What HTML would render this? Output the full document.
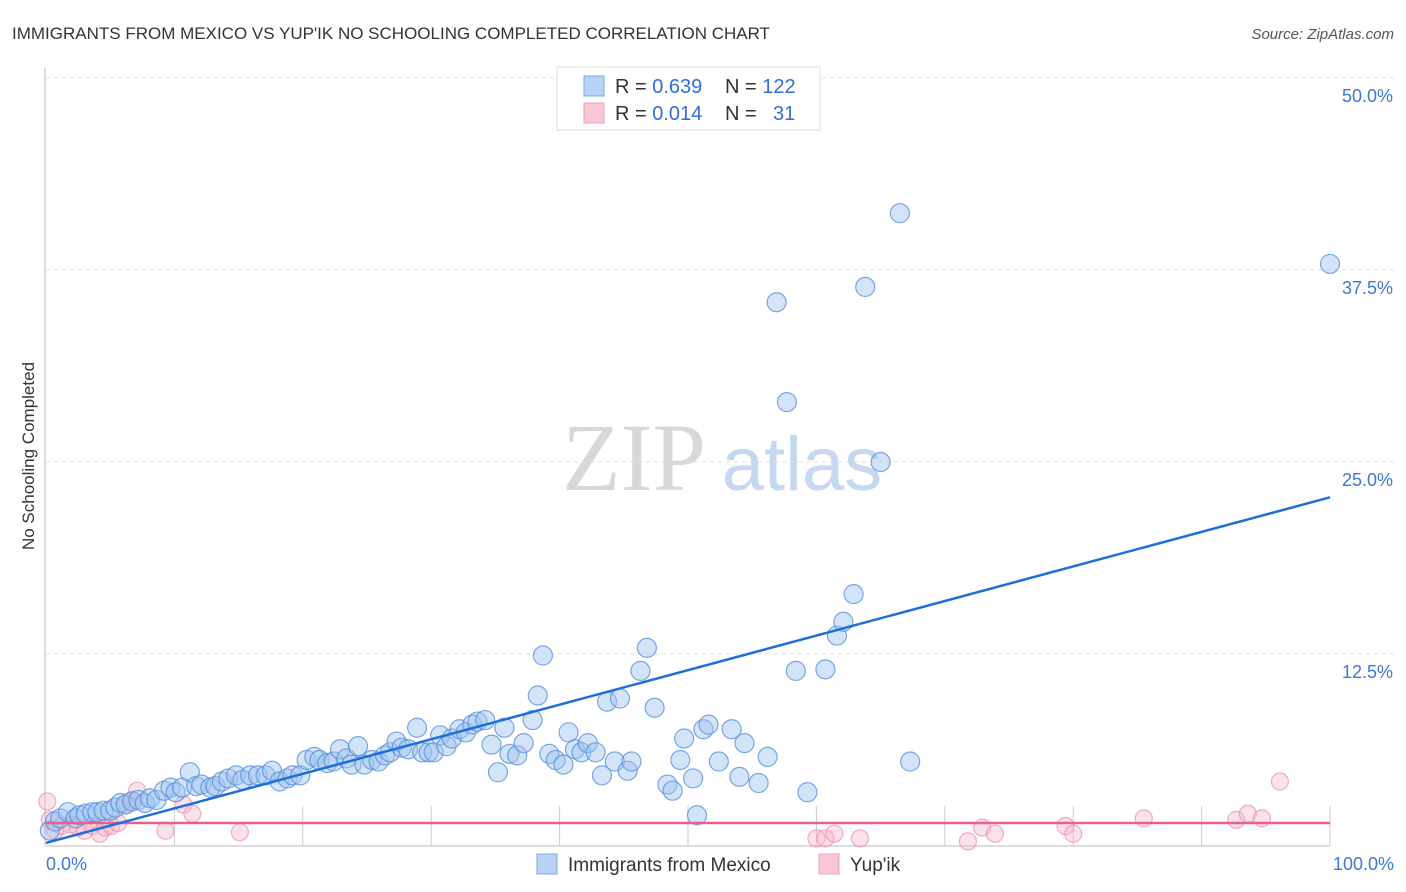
<!DOCTYPE html>
<html><head><meta charset="utf-8">
<style>
body{margin:0;background:#fff;font-family:"Liberation Sans",sans-serif;}
svg{display:block}
</style></head>
<body>
<svg id="chart" width="1406" height="892" xmlns="http://www.w3.org/2000/svg">
<text x="12" y="39" font-size="17" fill="#333">IMMIGRANTS FROM MEXICO VS YUP'IK NO SCHOOLING COMPLETED CORRELATION CHART</text>
<text x="1394" y="39" font-size="15" fill="#555" font-style="italic" text-anchor="end">Source: ZipAtlas.com</text>
<text transform="translate(34,456) rotate(-90)" font-size="17" fill="#333" text-anchor="middle">No Schooling Completed</text>
<g>
<text x="634" y="490" font-size="96" font-family="Liberation Serif,serif" fill="#d8d8d8" text-anchor="middle">ZIP</text>
<text x="802" y="490" font-size="76" fill="#c5d8f0" text-anchor="middle">atlas</text>
</g>
<g id="grid"></g>
<g id="marks"></g>
<g>
<rect x="557" y="67" width="263" height="63" fill="#fff" stroke="#ddd"/>
<rect x="584" y="76" width="20" height="20" fill="#b8d2f4" stroke="#7aa8e6"/>
<rect x="584" y="103" width="20" height="20" fill="#f9c6d6" stroke="#f0a0b8"/>
<text x="615" y="93" font-size="20" fill="#333">R = <tspan fill="#2f6fd6">0.639</tspan></text>
<text x="725" y="93" font-size="20" fill="#333">N = <tspan fill="#2f6fd6">122</tspan></text>
<text x="615" y="120" font-size="20" fill="#333">R = <tspan fill="#2f6fd6">0.014</tspan></text>
<text x="725" y="120" font-size="20" fill="#333">N = <tspan fill="#2f6fd6" x="773">31</tspan></text>
</g>
<g>
<rect x="537" y="854" width="20" height="20" fill="#b8d2f4" stroke="#7aa8e6"/>
<text x="568" y="871" font-size="19" fill="#333">Immigrants from Mexico</text>
<rect x="819" y="854" width="20" height="20" fill="#f9c6d6" stroke="#f0a0b8"/>
<text x="850" y="871" font-size="19" fill="#333">Yup'ik</text>
</g>
</svg>
<script>
const yTicks=[12.5,25,37.5,50];
const yTickLabels=["12.5%","25.0%","37.5%","50.0%"];
const xTickLabels=["0.0%","100.0%"];
const blueX=[0.3,0.7,1.1,1.7,2.3,2.6,3.1,3.6,4.0,4.5,5.0,5.4,5.8,6.2,6.7,7.2,7.7,8.1,8.6,9.2,9.7,10.1,10.6,11.2,11.7,12.1,12.8,13.2,13.7,14.2,14.8,15.3,15.9,16.5,17.1,17.6,18.2,18.8,19.2,19.8,20.3,20.9,21.3,21.9,22.4,22.9,23.4,23.8,24.3,24.8,25.4,25.9,26.4,26.8,27.3,27.7,28.2,28.9,29.3,29.8,30.2,30.7,31.2,31.6,32.2,32.7,33.2,33.6,34.2,34.7,35.2,35.7,36.1,36.7,37.2,37.9,38.3,38.7,39.2,39.7,40.3,40.7,41.2,41.7,42.2,42.8,43.3,43.7,44.3,44.7,45.3,45.6,46.3,46.8,47.4,48.4,48.8,49.4,49.7,50.4,50.7,51.2,51.6,52.4,53.4,54.0,54.4,55.5,56.2,56.9,57.7,58.4,59.3,60.7,61.6,62.1,62.9,63.8,65.0,66.5,67.3,100.0];
const blueY=[1.0,1.6,1.8,2.2,1.8,2.0,2.1,2.2,2.2,2.3,2.3,2.5,2.8,2.7,2.9,3.0,2.8,3.1,3.0,3.6,3.8,3.5,3.8,4.8,3.9,4.0,3.8,3.9,4.2,4.4,4.6,4.3,4.6,4.6,4.6,4.9,4.2,4.4,4.6,4.6,5.6,5.8,5.6,5.4,5.5,6.3,5.7,5.3,6.5,5.3,5.6,5.5,5.9,6.1,6.8,6.4,6.3,7.7,6.1,6.1,6.1,7.2,6.5,7.0,7.6,7.4,7.9,8.1,8.2,6.6,4.8,7.7,6.0,5.9,6.7,8.2,9.8,12.4,6.0,5.6,5.3,7.4,6.3,6.1,6.7,6.1,4.6,9.4,5.5,9.6,4.9,5.5,11.4,12.9,9.0,4.0,3.6,5.6,7.0,4.4,2.0,7.6,7.9,5.5,7.6,4.5,6.7,4.1,5.8,35.4,28.9,11.4,3.5,11.5,13.7,14.6,16.4,36.4,25.0,41.2,5.5,37.9];
const pinkX=[0.1,0.3,0.7,1.2,1.9,2.5,3.0,3.6,4.2,4.6,5.1,5.6,6.2,6.7,7.1,9.3,10.7,11.4,15.1,60.0,60.7,61.4,63.4,71.8,72.9,73.9,79.4,80.0,85.5,92.7,93.6,94.7,96.1];
const pinkY=[2.9,1.7,1.0,1.3,1.4,1.2,1.0,1.3,0.8,1.2,1.3,1.5,2.7,3.0,3.6,1.0,2.7,2.1,0.9,0.5,0.5,0.8,0.5,0.3,1.2,0.8,1.3,0.8,1.8,1.7,2.1,1.8,4.2];
const blueTrend=[0.2,22.7];
const pinkTrend=[1.5,1.5];

const L=46,R=1330,B=846,T=78;
const sx=v=>L+(R-L)*v/100;
const sy=v=>B-(B-T)*v/50;
const NS="http://www.w3.org/2000/svg";
function mk(tag,attrs,parent){const e=document.createElementNS(NS,tag);for(const k in attrs)e.setAttribute(k,attrs[k]);parent.appendChild(e);return e;}
const grid=document.getElementById('grid'),marks=document.getElementById('marks');
yTicks.forEach((t,i)=>{
  const g=mk('line',{x1:L,x2:1394,y1:sy(t),y2:sy(t),stroke:'#ddd','stroke-dasharray':'4,4'},grid);
  
  
  const tx=mk('text',{x:1393,y:sy(t)+24,'font-size':18,fill:'#3a78d8','text-anchor':'end'},grid);
  tx.textContent=yTickLabels[i];
  
  
});
const ax=mk('line',{x1:L-1,x2:L-1,y1:68,y2:B,stroke:'#bbb'},grid);


const bx=mk('line',{x1:L,x2:R,y1:B,y2:B,stroke:'#bbb'},grid);


for(let i=1;i<=10;i++){
  const tk=mk('line',{x1:sx(i*10),x2:sx(i*10),y1:806,y2:B,stroke:'#ccc'},grid);
  
  
}
[[0,'start',46],[100,'end',1394]].forEach((d,i)=>{
  const tx=mk('text',{x:d[2],y:870,'font-size':18,fill:'#3a78d8','text-anchor':d[1]},grid);
  tx.textContent=xTickLabels[i];
  
  
});
pinkX.forEach((x,i)=>{
  const c=mk('circle',{cx:sx(x),cy:sy(pinkY[i]),r:8.5,fill:'rgba(246,180,200,0.4)',stroke:'rgba(236,140,170,0.7)','stroke-width':1.2},marks);
  
  
});
blueX.forEach((x,i)=>{
  const c=mk('circle',{cx:sx(x),cy:sy(blueY[i]),r:9.5,fill:'rgba(160,196,240,0.45)',stroke:'rgba(80,140,220,0.75)','stroke-width':1.2},marks);
  
  
});
const pl=mk('line',{x1:sx(0),x2:sx(100),y1:sy(pinkTrend[0]),y2:sy(pinkTrend[1]),stroke:'#e8608c','stroke-width':2.5},marks);


const bl=mk('line',{x1:sx(0),x2:sx(100),y1:sy(blueTrend[0]),y2:sy(blueTrend[1]),stroke:'#1f6fd8','stroke-width':2.5},marks);


</script>
</body></html>
